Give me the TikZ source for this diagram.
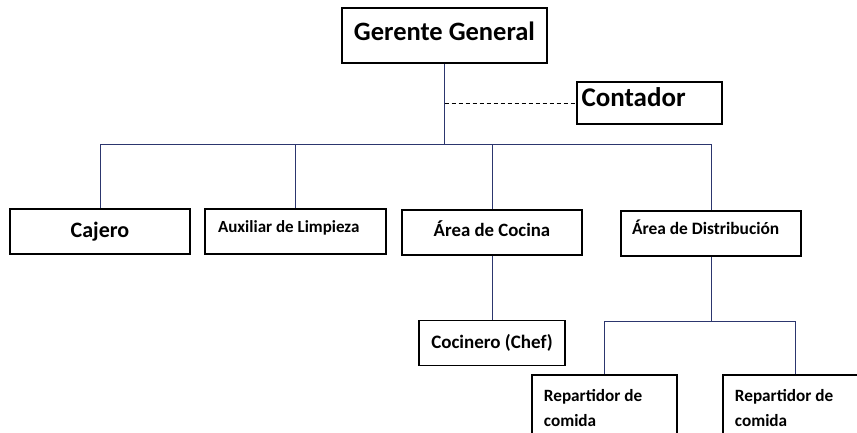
\documentclass[tikz,border=0pt]{standalone}
\usepackage{fontspec}
\setmainfont{Carlito}
\usepackage{color}
\definecolor{mynavy}{RGB}{44,54,110}
\usepackage{tikz}
\usetikzlibrary{calc,positioning}
\newcommand{\tam}[1]{\fontsize{#1}{#1}\selectfont\spaceskip=0pt\xspaceskip=0pt\relax}
\tikzstyle{puesto}=[draw,rectangle,line width=1.8pt,inner sep=2pt,minimum width=180pt,minimum height=45pt]
\tikzstyle{linea}=[draw=mynavy,line width=1pt]

\begin{document}
\begin{tikzpicture}[x=1pt,y=-1pt]
\clip (0,0) rectangle (857,432);
\draw (444.5, 35.5) node [puesto, minimum width=205pt, minimum height=55pt, font=\bfseries\tam{26.5}, text height=18pt, text depth=9pt] (gerente) {Gerente General};
\draw (649.5, 103) node [puesto, minimum width=145pt, minimum height=42pt, font=\bfseries\tam{27}, inner xsep=4.5pt, text width=136pt, text height=18pt, text depth=12pt] (contador) {\tam{27}Contador};
\draw (100, 231.5) node [puesto, font=\bfseries\tam{22}, text height=15pt, text depth=4pt] (cajero) {Cajero};
\draw (295.5, 231.5) node [puesto, minimum width=181pt, font=\bfseries\tam{17}, inner xsep=13pt, text width=155pt, text height=12pt, text depth=11pt] (auxiliar) {\tam{17}Auxiliar de Limpieza};
\draw (492, 232.5) node [puesto, font=\bfseries\tam{18.8}, text height=13pt, text depth=6pt] (cocina) {Área de Cocina};
\draw (711, 233.5) node [puesto, font=\bfseries\tam{17.4}, inner xsep=11pt, text width=158pt, text height=12pt, text depth=11pt] (distrib) {\tam{17.4}Área de Distribución};
\draw (492, 343) node [puesto, minimum width=146pt, font=\bfseries\tam{19}] (cocinero) {Cocinero (Chef)};
\draw (531, 374) node [puesto, anchor=north west, minimum width=145pt, minimum height=0pt, font=\bfseries\fontsize{17.2}{25}\selectfont, inner xsep=12pt, inner ysep=14pt, text width=121pt] (rep1) {\spaceskip=0pt Repartidor de\\comida};
\draw (722, 374) node [puesto, anchor=north west, minimum width=145pt, minimum height=0pt, font=\bfseries\fontsize{17.2}{25}\selectfont, inner xsep=12pt, inner ysep=14pt, text width=121pt] (rep2) {\spaceskip=0pt Repartidor de\\comida};
% lineas
\coordinate (bus) at ($(gerente.south)+(0,81)$);
\coordinate (bus2) at ($(distrib.south)+(0,65)$);
\draw[linea] (gerente.south) -- (bus);
\draw[dashed, dash pattern=on 4pt off 3pt, line width=0.9pt] (gerente.south |- contador.west) -- (contador.west);
\draw[linea] (cajero.north) |- (bus) -| (distrib.north);
\draw[linea] (auxiliar.north) -- (auxiliar.north |- bus);
\draw[linea] (cocina.north) -- (cocina.north |- bus);
\draw[linea] (cocina.south) -- (cocinero.north);
\draw[linea] (distrib.south) -- (bus2);
\draw[linea] (rep1.north) |- (bus2) -| (rep2.north);
\end{tikzpicture}
\end{document}
